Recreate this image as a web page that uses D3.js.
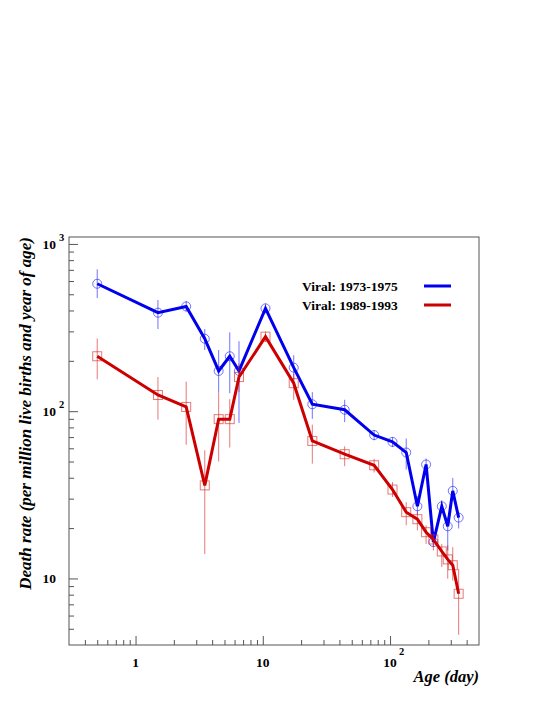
<!DOCTYPE html>
<html>
<head>
<meta charset="utf-8">
<script src="https://cdn.jsdelivr.net/npm/d3@7"></script>
<style>
  body { margin: 0; background: #fff; }
  text { font-family: "Liberation Serif", "Times New Roman", serif; font-weight: bold; fill: #000; }
</style>
</head>
<body>
<div id="chart"></div>
<script>
// Age bins (days), shared by both periods.
var ages = [0.5, 1.5, 2.5, 3.5, 4.5, 5.5, 6.5, 10.5, 17.5, 24.5, 44, 75, 104.5, 134, 164, 192, 219, 255, 284, 311, 346];

// Viral: 1973-1975
var rate7375 = [578, 388, 423, 271, 174, 213, 174, 412, 182, 110, 102, 72, 65.5, 56.6, 27, 48, 16.5, 27, 20.5, 33.4, 23.1];
var hi7375   = [705, 462, 456, 310, 232, 296, 262, 440, 216, 130, 117, 77, 70, 68.6, 31, 52.1, 18.9, 29.3, 23.3, 39.9, 24.9];
var lo7375   = [475, 310, 393, 232, 130, 128, 85, 386, 150, 90, 86, 67, 61, 44.8, 24, 44.3, 15.4, 24.5, 14.7, 29.7, 19.9];

// Viral: 1989-1993
var rate8993 = [213, 125, 106, 36, 89.6, 89.6, 160, 279, 147, 66.4, 55.3, 47.5, 34, 24.9, 22.6, 18.9, 17.1, 14.5, 13.0, 12.0, 8.1];
var hi8993   = [272, 160, 150, 58.4, 130, 118, 193, 300, 168, 83, 61.7, 52, 37.7, 28.6, 24.9, 20.8, 18.5, 16.1, 15.8, 15.4, 11.4];
var lo8993   = [155, 89, 63, 14, 50, 60.6, 130, 260, 117, 48.6, 46.9, 43, 30.7, 20.8, 19.4, 16.1, 14.7, 11.7, 9.96, 9.7, 4.6];

var seriesNames = ["Viral: 1973-1975", "Viral: 1989-1993"];
var xMajor = [1, 10, 100];
var xMajorLabels = [["1", ""], ["10", ""], ["10", "2"]];
var yMajor = [10, 100, 1000];
var yMajorLabels = [["10", ""], ["10", "2"], ["10", "3"]];

var W = 545, H = 705;
var margin = { top: 237, right: 66, bottom: 60, left: 69 };
var width = W - margin.left - margin.right;
var height = H - margin.top - margin.bottom;

var x = d3.scaleLog().domain([0.3, 500]).range([0, width]);
var y = d3.scaleLog().domain([4, 1100]).range([height, 0]);

function minorTicks(dom, majors) {
    var out = [];
    for (var e = -1; e <= 3; e++) {
        for (var m = 1; m < 10; m++) {
            var v = m * Math.pow(10, e);
            if (v > dom[0] * 1.0001 && v < dom[1] * 0.9999 && majors.indexOf(v) < 0) out.push(+v.toPrecision(3));
        }
    }
    return out;
}

var svg = d3.select("#chart").append("svg")
    .attr("width", W).attr("height", H);
var g = svg.append("g").attr("transform", "translate(" + margin.left + "," + margin.top + ")");

// frame
g.append("rect").attr("x", 0).attr("y", 0).attr("width", width).attr("height", height)
    .attr("fill", "none").attr("stroke", "#555").attr("stroke-width", 1);

// ticks (inward)
function styleAxis(sel) {
    sel.select(".domain").remove();
    sel.selectAll("line").attr("stroke", "#555");
}
g.append("g").attr("transform", "translate(0," + height + ")")
    .call(d3.axisBottom(x).tickValues(minorTicks(x.domain(), xMajor)).tickSize(-5).tickFormat(""))
    .call(styleAxis);
g.append("g").attr("transform", "translate(0," + height + ")")
    .call(d3.axisBottom(x).tickValues(xMajor).tickSize(-9).tickFormat(""))
    .call(styleAxis);
g.append("g")
    .call(d3.axisLeft(y).tickValues(minorTicks(y.domain(), yMajor)).tickSize(-5).tickFormat(""))
    .call(styleAxis);
g.append("g")
    .call(d3.axisLeft(y).tickValues(yMajor).tickSize(-9).tickFormat(""))
    .call(styleAxis);

// tick labels
xMajor.forEach(function (v, i) {
    var lab = xMajorLabels[i];
    g.append("text").attr("x", x(v)).attr("y", height + 22)
        .attr("text-anchor", "middle").style("font-size", "13.5px").text(lab[0]);
    if (lab[1]) {
        g.append("text").attr("x", x(v) + 9).attr("y", height + 10)
            .style("font-size", "10.5px").text(lab[1]);
    }
});
yMajor.forEach(function (v, i) {
    var lab = yMajorLabels[i];
    g.append("text").attr("x", -13).attr("y", y(v) + 5)
        .attr("text-anchor", "end").style("font-size", "13.5px").text(lab[0]);
    if (lab[1]) {
        g.append("text").attr("x", -10).attr("y", y(v) - 3)
            .style("font-size", "10.5px").text(lab[1]);
    }
});

// axis titles
g.append("text").attr("x", width).attr("y", height + 37)
    .attr("text-anchor", "end").style("font-size", "16.5px").style("font-style", "italic")
    .text("Age (day)");
svg.append("text")
    .attr("transform", "translate(31," + margin.top + ") rotate(-90)")
    .attr("text-anchor", "end").style("font-size", "17px").style("font-style", "italic")
    .text("Death rate (per million live births and year of age)");

// series
var series = [
    { name: seriesNames[0], rate: rate7375, hi: hi7375, lo: lo7375, color: "#0000ee", light: "rgba(40,40,255,0.65)", marker: "circle" },
    { name: seriesNames[1], rate: rate8993, hi: hi8993, lo: lo8993, color: "#cc0000", light: "rgba(215,30,30,0.6)", marker: "square" }
];

var line = d3.line().x(function (d) { return x(d[0]); }).y(function (d) { return y(d[1]); });

series.forEach(function (s) {
    var pts = ages.map(function (a, i) { return [a, s.rate[i], s.hi[i], s.lo[i]]; });
    var sg = g.append("g");
    sg.selectAll("line.err").data(pts).enter().append("line")
        .attr("x1", function (d) { return x(d[0]); })
        .attr("x2", function (d) { return x(d[0]); })
        .attr("y1", function (d) { return y(d[2]); })
        .attr("y2", function (d) { return y(d[3]); })
        .attr("stroke", s.light).attr("stroke-width", 1);
    if (s.marker === "circle") {
        sg.selectAll("circle").data(pts).enter().append("circle")
            .attr("cx", function (d) { return x(d[0]); })
            .attr("cy", function (d) { return y(d[1]); })
            .attr("r", 4.5).attr("fill", "none").attr("stroke", s.light).attr("stroke-width", 1);
    } else {
        sg.selectAll("rect").data(pts).enter().append("rect")
            .attr("x", function (d) { return x(d[0]) - 4.5; })
            .attr("y", function (d) { return y(d[1]) - 4.5; })
            .attr("width", 9).attr("height", 9)
            .attr("fill", "none").attr("stroke", s.light).attr("stroke-width", 1);
    }
    sg.append("path").datum(pts).attr("d", line)
        .attr("fill", "none").attr("stroke", s.color).attr("stroke-width", 3)
        .attr("stroke-linejoin", "miter");
});

// legend
series.forEach(function (s, i) {
    var ly = 286 + i * 19 - margin.top;
    g.append("text").attr("x", 233).attr("y", ly + 5).style("font-size", "13.5px").text(s.name);
    g.append("line").attr("x1", 355).attr("x2", 382).attr("y1", ly).attr("y2", ly)
        .attr("stroke", s.color).attr("stroke-width", 3);
});
</script>
</body>
</html>
